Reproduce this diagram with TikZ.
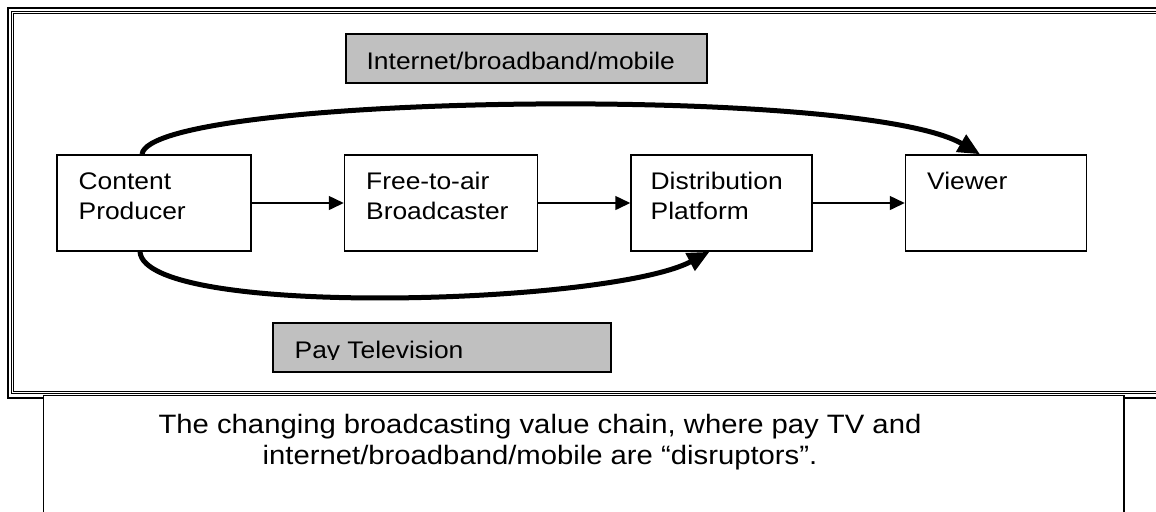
\documentclass[tikz,border=0pt]{standalone}
\usepackage{fontspec}
\setmainfont[FakeStretch=1.1]{Liberation Sans}
\usetikzlibrary{arrows.meta,positioning}
\definecolor{tagfill}{HTML}{C0C0C0}
\tikzset{
>={Triangle[length=7.5pt,width=7pt]},
	stagebox/.style={
		rectangle,
		draw=black, line width=0.75pt,
		minimum width=97pt,
		minimum height=48pt},
	stagetext/.style={
		anchor=base west,
		inner sep=0pt,
		align=left,
		font=\fontsize{12}{15}\selectfont},
	tagbox/.style={
		rectangle,
		fill=tagfill,
		draw=black, line width=0.75pt,
		minimum height=24.5pt},
	jump/.style={
		line width=2.5pt,
		-{Triangle[length=11pt,width=9.5pt]}},
	captext/.style={
		anchor=base,
		inner sep=0pt,
		align=center,
		font=\fontsize{13.3}{15.5}\selectfont}
}
\begin{document}
\begin{tikzpicture}[x=0.5pt, y=-0.5pt, node distance=46pt]
\clip (0,0) rectangle (1156,511);
% frame and caption
\draw[line width=1pt] (8,8) rectangle (1180,397.5);
\draw[line width=0.5pt] (11.5,11.5) rectangle (1180,393.5);
\draw[line width=0.6pt] (13.7,13.7) rectangle (1180,391.5);
\filldraw[fill=white, line width=0.8pt] (43.5,395.5) rectangle (1124,540);
\node[captext] (capline) at (540,464) {The changing broadcasting value chain, where pay TV and\\internet/broadband/mobile are “disruptors”.};
% value chain
\node[stagebox] (cp) at (154,203) {};
\node[stagebox, minimum width=96.5pt, right=of cp] (fta) {};
\node[stagebox, minimum width=90.5pt, right=of fta] (dp) {};
\node[stagebox, minimum width=90.5pt, right=of dp] (vw) {};
\node[stagetext] (cptext) at ([shift={(22,65.5)}]cp.north west) {Content\\Producer};
\node[stagetext] (ftatext) at ([shift={(22,65.5)}]fta.north west) {Free-to-air\\Broadcaster};
\node[stagetext] (dptext) at ([shift={(20,65.5)}]dp.north west) {Distribution\\Platform};
\node[stagetext] (vwtext) at ([shift={(22,35)}]vw.north west) {Viewer};
\draw[->, line width=0.75pt] (cp) -- (fta);
\draw[->, line width=0.75pt] (fta) -- (dp);
\draw[->, line width=0.75pt] (dp) -- (vw);
% disruptors
\node[tagbox, minimum width=180.5pt] (net) at (526.5,58.5) {};
\node[stagetext] (nettext) at ([shift={(21,36)}]net.north west) {Internet/broadband/mobile};
\node[tagbox, minimum width=169pt] (pay) at (442,347.5) {};
\begin{scope}
\clip (pay.north west) rectangle ([shift={(0,37.5)}]pay.north east);
\node[stagetext] (paytext) at ([shift={(22,36)}]pay.north west) {Pay Television};
\end{scope}
\draw[jump] ([xshift=-6pt]cp.north) .. controls +(8,-60) and +(-120,-70) .. ([xshift=-8pt]vw.north);
\draw[jump] ([xshift=-7pt]cp.south) .. controls +(5,67) and +(-100,53) .. ([xshift=-6pt]dp.south);
\end{tikzpicture}
\end{document}
